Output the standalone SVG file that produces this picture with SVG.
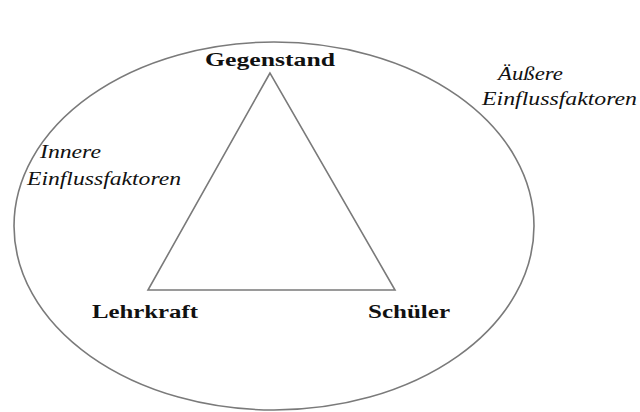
<svg xmlns="http://www.w3.org/2000/svg" width="640" height="412" viewBox="0 0 640 412">
<style>
.shape{fill:none;stroke:#7a7a7a;stroke-width:1.6}
.b{font-family:"Liberation Serif","DejaVu Serif",serif;font-weight:bold;font-size:18px;fill:#111}
.i{font-family:"Liberation Serif","DejaVu Serif",serif;font-style:italic;font-size:19px;fill:#111}
</style>
<rect width="640" height="412" fill="#fff"/>
<g id="outer">
<ellipse class="shape" cx="274" cy="226" rx="260" ry="184"/>
<text class="i" x="498" y="80" textLength="65" lengthAdjust="spacingAndGlyphs">Äußere</text>
<text class="i" x="482" y="105" textLength="155" lengthAdjust="spacingAndGlyphs">Einflussfaktoren</text>
</g>
<g id="inner">
<text class="i" x="40" y="158" textLength="61" lengthAdjust="spacingAndGlyphs">Innere</text>
<text class="i" x="27" y="185" textLength="154" lengthAdjust="spacingAndGlyphs">Einflussfaktoren</text>
</g>
<g id="connectors">
<polygon class="shape" points="270,73 148,290 395,290"/>
</g>
<g id="gegenstand"><text class="b" x="205" y="66" textLength="130" lengthAdjust="spacingAndGlyphs">Gegenstand</text></g>
<g id="lehrkraft"><text class="b" x="92" y="318" textLength="106" lengthAdjust="spacingAndGlyphs">Lehrkraft</text></g>
<g id="schueler"><text class="b" x="368" y="318" textLength="82" lengthAdjust="spacingAndGlyphs">Schüler</text></g>
</svg>
